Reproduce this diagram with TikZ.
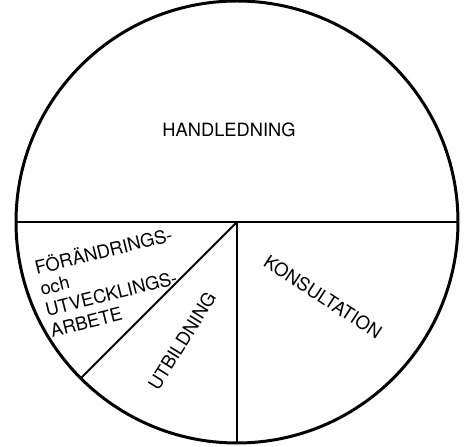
\documentclass[tikz,border=0pt]{standalone}
\usepackage{fontspec}
\setmainfont{TeX Gyre Heros}
\usetikzlibrary{calc}
\begin{document}
\begin{tikzpicture}[
    x=1cm,
    y=1cm,
    rim/.style={line width=1.7pt},
    divider/.style={line width=1.05pt},
    sectorlabel/.style={font=\fontsize{10.4}{12.2}\selectfont}
  ]
    \useasboundingbox (0,0) rectangle (9.34,8.94);

    \coordinate (mid) at (4.74,4.50);

    % the pie
    \draw[rim] (mid) circle (4.42);
    \draw[divider] ($(mid)+(180:4.42)$) -- ($(mid)+(0:4.42)$);
    \draw[divider] (mid) -- ($(mid)+(270:4.42)$);
    \draw[divider] (mid) -- ($(mid)+(225:4.42)$);

    \node[sectorlabel] (handl) at (4.58,6.34) {HANDLEDNING};
    \node[sectorlabel,rotate=-33] (konsult) at (6.46,3.00) {KONSULTATION};
    \node[sectorlabel,rotate=58] (utbild) at (3.64,2.12) {UTBILDNING};
    \node[sectorlabel,rotate=14,align=left,inner sep=0pt] (forandr) at (2.22,3.32)
      {FÖRÄNDRINGS-\\och\\UTVECKLINGS-\\ARBETE};
  \end{tikzpicture}
\end{document}
